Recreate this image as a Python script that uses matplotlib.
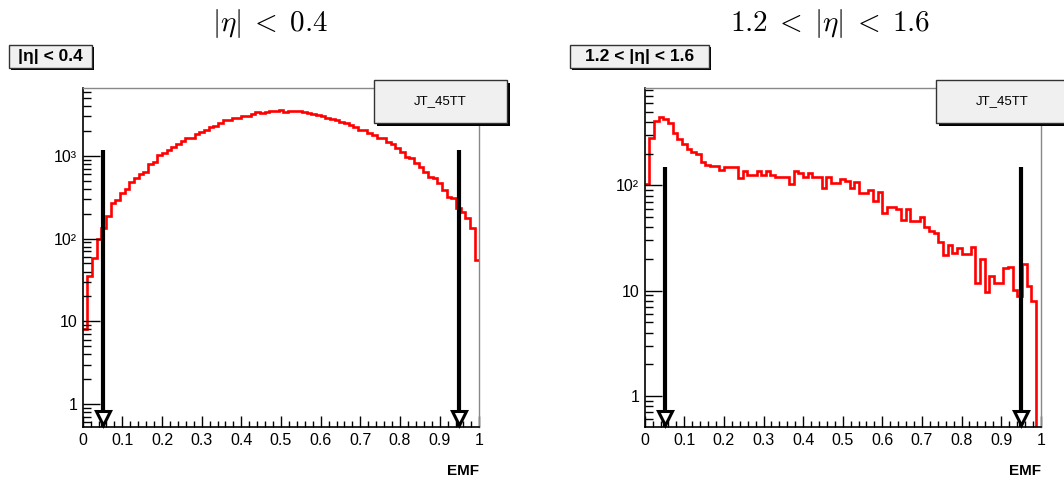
import numpy as np
import matplotlib
matplotlib.use('Agg')
import matplotlib.pyplot as plt
import matplotlib.ticker as mticker
import matplotlib.transforms as mtransforms
from matplotlib.patches import Rectangle

plt.rcParams['font.family'] = ['Liberation Sans', 'DejaVu Sans']
plt.rcParams['mathtext.fontset'] = 'cm'

# --- DATA: EMF histograms, 85 bins over [0, 1] ---
n_bins = 85
emf_lo, emf_hi = 0.0, 1.0

central_counts = [8, 35, 59, 100, 133, 186, 272, 290, 353, 398,
                  480, 545, 604, 633, 805, 835, 1025, 1095, 1170, 1285,
                  1390, 1520, 1630, 1660, 1840, 1950, 2040, 2220, 2290, 2500,
                  2700, 2700, 2850, 2850, 3040, 3080, 3220, 3380, 3290, 3380,
                  3470, 3500, 3590, 3425, 3490, 3490, 3490, 3425, 3290, 3190,
                  3125, 3060, 2900, 2800, 2715, 2600, 2475, 2370, 2255, 2055,
                  2055, 1875, 1800, 1630, 1630, 1485, 1400, 1255, 1100, 975,
                  945, 810, 740, 645, 555, 535, 465, 390, 321, 307,
                  232, 211, 176, 133, 55]

forward_counts = [104, 279, 410, 448, 426, 393, 316, 274, 247, 220,
                  208, 198, 168, 156, 152, 152, 140, 148, 148, 148,
                  118, 138, 125, 125, 138, 125, 138, 125, 121, 121,
                  121, 104, 138, 132, 119, 130, 121, 119, 94, 119,
                  106, 106, 116, 110, 95, 108, 84, 84, 90, 71,
                  87, 54, 62, 62, 60, 47, 60, 46, 46, 50,
                  40, 37, 35.5, 29, 21.8, 27, 22.9, 25.2, 22.3, 22.3,
                  25.8, 11.9, 19.8, 9.8, 13.8, 11.9, 11.9, 16.3, 16.9, 10.1,
                  8.8, 17.9, 11.1, 7.9, 0]

panel_titles = [r'$|\eta|\;<\;0.4$', r'$1.2\;<\;|\eta|\;<\;1.6$']
box_labels = ['|η| < 0.4', '1.2 < |η| < 1.6']
trigger = 'JT_45TT'
cut_lo, cut_hi = 0.05, 0.95
arrow_top = [1180, 148]
ylims = [(0.527, 6680), (0.507, 845)]
ytick_vals = [[1, 10, 100, 1000], [1, 10, 100]]
ytick_text = [['1', '10', '10²', '10³'], ['1', '10', '10²']]
xtick_vals = [0, 0.1, 0.2, 0.3, 0.4, 0.5, 0.6, 0.7, 0.8, 0.9, 1.0]
xtick_text = ['0', '0.1', '0.2', '0.3', '0.4', '0.5', '0.6', '0.7', '0.8', '0.9', '1']

W, H = 1064, 480
fig = plt.figure(figsize=(W / 100, H / 100), dpi=100)


def fx(px):
    return px / W


def fy(py):
    return 1 - py / H


def shadow_box(x0, y0, x1, y1, text, size, weight, off=3):
    # ROOT style pave: light grey fill, black shadow bottom-right
    fig.add_artist(Rectangle((fx(x0 + off), fy(y1 + off)), fx(x1 - x0), (y1 - y0) / H,
                             transform=fig.transFigure, fc='black', ec='none', zorder=5))
    fig.add_artist(Rectangle((fx(x0), fy(y1)), fx(x1 - x0), (y1 - y0) / H,
                             transform=fig.transFigure, fc='#f0f0f0', ec='#333333', lw=1, zorder=6))
    fig.text(fx((x0 + x1) / 2), fy((y0 + y1) / 2), text, ha='center', va='center',
             fontsize=size, fontweight=weight, zorder=7)


# axes geometry in pixels: (left, right)
ax_px = [(82.7, 479.3), (644.7, 1040.7)]
ax_top, ax_bot = 87.7, 427.0
title_x = [270, 830]
small_box = [(8.5, 45, 92, 68), (569.5, 45, 709, 68)]
jt_box = [(374, 80, 507, 123), (936, 80, 1069, 123)]

edges = np.linspace(emf_lo, emf_hi, n_bins + 1)
datasets = [central_counts, forward_counts]

for i in range(2):
    l, r = ax_px[i]
    ax = fig.add_axes([fx(l), fy(ax_bot), fx(r - l), (ax_bot - ax_top) / H])
    ax.set_yscale('log')
    counts = np.array(datasets[i], dtype=float)
    ax.stairs(counts, edges, color='red', lw=1.9, baseline=None)

    ax.set_xlim(0, 1)
    ax.set_ylim(*ylims[i])

    # cut arrows
    ymin = ylims[i][0]
    ms = 10.5
    shift = mtransforms.offset_copy(ax.transData, fig=fig, y=ms / 2 + 1, units='points')
    for xc in (cut_lo, cut_hi):
        ax.plot([xc, xc], [arrow_top[i], ymin], color='black', lw=3,
                solid_capstyle='butt', clip_on=False, zorder=4)
        ax.plot([xc], [ymin], marker='v', ms=ms, mfc='white', mec='black', mew=2.2,
                transform=shift, clip_on=False, zorder=5)

    ax.xaxis.set_major_locator(mticker.FixedLocator(xtick_vals))
    ax.xaxis.set_minor_locator(mticker.MultipleLocator(0.02))
    ax.set_xticklabels(xtick_text)
    ax.yaxis.set_major_locator(mticker.FixedLocator(ytick_vals[i]))
    ax.yaxis.set_minor_locator(mticker.LogLocator(base=10, subs=np.arange(2, 10)))
    ax.yaxis.set_minor_formatter(mticker.NullFormatter())
    ax.set_yticklabels(ytick_text[i])

    ax.tick_params(axis='x', which='major', direction='in', length=8, width=1,
                   labelsize=11.5, pad=4, top=False)
    ax.tick_params(axis='x', which='minor', direction='in', length=4, width=1, top=False)
    ax.tick_params(axis='y', which='major', direction='in', length=12, width=1,
                   labelsize=11.5, pad=4, right=False)
    ax.tick_params(axis='y', which='minor', direction='in', length=6, width=1, right=False)

    for s in ('left', 'bottom'):
        ax.spines[s].set_color('black')
        ax.spines[s].set_linewidth(1.2)
    for s in ('top', 'right'):
        ax.spines[s].set_color('#888888')
        ax.spines[s].set_linewidth(1.0)

    fig.text(fx(r), fy(471), 'EMF', ha='right', va='center', fontsize=11, fontweight='bold')
    fig.text(fx(title_x[i]), fy(24), panel_titles[i], ha='center', va='center', fontsize=21)
    x0, y0, x1, y1 = small_box[i]
    shadow_box(x0, y0, x1, y1, box_labels[i], 12.5, 'bold', off=2)
    x0, y0, x1, y1 = jt_box[i]
    shadow_box(x0, y0, x1, y1, trigger, 9.5, 'normal', off=3)

fig.savefig('out.png', dpi=100)
